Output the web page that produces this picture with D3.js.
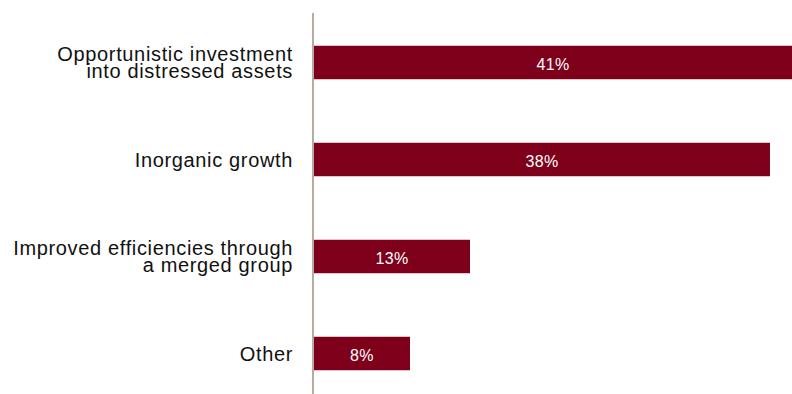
<!DOCTYPE html>
<html>
<head>
<meta charset="utf-8">
<script src="https://cdn.jsdelivr.net/npm/d3@7"></script>
<style>
  html, body { margin: 0; padding: 0; background: #ffffff; overflow: hidden; }
  svg { display: block; }
</style>
</head>
<body>
<svg id="chart" width="792" height="394"></svg>
<script>
// Categories (each entry is a list of label lines) and their shares in percent
const categories = [
  ["Opportunistic investment", "into distressed assets"],
  ["Inorganic growth"],
  ["Improved efficiencies through", "a merged group"],
  ["Other"]
];
const values = [41, 38, 13, 8];
const valueLabels = ["41%", "38%", "13%", "8%"];

const W = 792, H = 394;
const axisX = 313;        // position of the vertical baseline
const barX0 = 314;        // bars start just right of the baseline
const barColor = "#7e001b";
const axisColor = "#b5aba1";
const fontFamily = "'Liberation Sans', Arial, Helvetica, sans-serif";

const svg = d3.select("#chart");

const keys = categories.map((d, i) => i);

const x = d3.scaleLinear()
  .domain([0, 41])
  .range([barX0, barX0 + 492]);

const y = d3.scaleBand()
  .domain(keys)
  .range([14, 402])
  .paddingInner(0.655)
  .paddingOuter(0.3275);

// bars
svg.append("g")
  .selectAll("rect")
  .data(values)
  .join("rect")
  .attr("x", x(0))
  .attr("y", (d, i) => y(i))
  .attr("width", d => x(d) - x(0))
  .attr("height", y.bandwidth())
  .attr("fill", barColor);

// value labels, centred in the visible part of each bar
svg.append("g")
  .selectAll("text")
  .data(values)
  .join("text")
  .attr("x", d => (x(0) + Math.min(x(d), W)) / 2)
  .attr("y", (d, i) => y(i) + y.bandwidth() / 2 + 7.3)
  .attr("text-anchor", "middle")
  .attr("fill", "#ffffff")
  .style("font-family", fontFamily)
  .style("font-size", "16px")
  .style("letter-spacing", "0.4px")
  .text((d, i) => valueLabels[i]);

// vertical baseline
svg.append("line")
  .attr("x1", axisX).attr("x2", axisX)
  .attr("y1", 13).attr("y2", H)
  .attr("stroke", axisColor)
  .attr("stroke-width", 2);

// category labels, right-aligned against the baseline
const lineH = 16.6;
const catG = svg.append("g");
categories.forEach((lines, i) => {
  const cy = y(i) + y.bandwidth() / 2;
  const t = catG.append("text")
    .attr("text-anchor", "end")
    .attr("fill", "#111111")
    .style("font-family", fontFamily)
    .style("font-size", "20px")
    .style("letter-spacing", "0.65px");
  lines.forEach((ln, j) => {
    t.append("tspan")
      .attr("x", 293)
      .attr("y", cy + 7 - (lines.length - 1) * lineH / 2 + j * lineH)
      .text(ln);
  });
});
</script>
</body>
</html>
